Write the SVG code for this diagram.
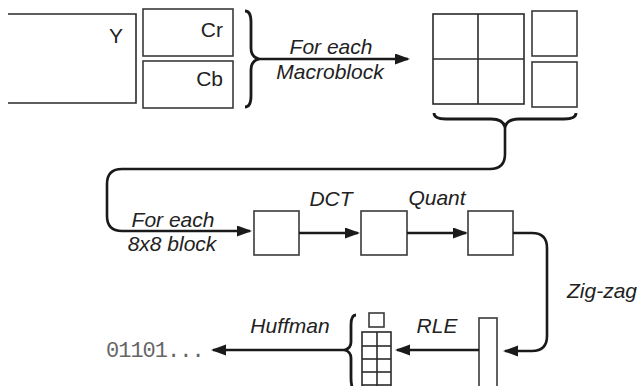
<svg xmlns="http://www.w3.org/2000/svg" width="638" height="386" viewBox="0 0 638 386">
<style>
.box{fill:#fff;stroke:#3a3a3a;stroke-width:1.6}
.grid{fill:none;stroke:#2a2a2a;stroke-width:1.6}
.conn{fill:none;stroke:#1a1a1a;stroke-width:2.6}
.brace{fill:none;stroke:#1a1a1a;stroke-width:2.8;stroke-linejoin:round}
.lbl{font-family:"Liberation Sans",Arial,sans-serif;font-size:21px;fill:#222}
.it{font-style:italic}
.mono{font-family:"Liberation Mono","Courier New",monospace;font-size:22px;letter-spacing:-1px;fill:#666}
</style>
<defs>
<marker id="ah" markerUnits="userSpaceOnUse" markerWidth="16" markerHeight="12" refX="13" refY="5.5" orient="auto">
<path d="M0,0 L15,5.5 L0,11 Z" fill="#1a1a1a"/>
</marker>
</defs>
<rect width="638" height="386" fill="#fff"/>

<g id="node-Y">
<path class="grid" d="M8,14 H136 V103 H8"/>
<text class="lbl" x="123" y="43" text-anchor="end">Y</text>
</g>
<g id="node-Cr">
<rect class="box" x="143" y="9" width="90" height="47"/>
<text class="lbl" x="223" y="37" text-anchor="end">Cr</text>
</g>
<g id="node-Cb">
<rect class="box" x="143" y="61" width="90" height="47"/>
<text class="lbl" x="223" y="86" text-anchor="end">Cb</text>
</g>
<g id="brace-color">
<path class="brace" d="M245,11 Q251,11 251,22 V48 Q251,57 259,59 Q251,61 251,70 V96 Q251,107 245,107"/>
</g>

<g id="node-macroblock">
<rect class="grid" x="433" y="14" width="91" height="90"/>
<line class="grid" x1="478" y1="14" x2="478" y2="104"/>
<line class="grid" x1="433" y1="59" x2="524" y2="59"/>
<rect class="box" x="532" y="11" width="45" height="45"/>
<rect class="box" x="532" y="62" width="45" height="45"/>
</g>
<g id="brace-macroblock">
<path class="brace" d="M434,113 Q434,119 446,119 H491 Q503,119 505,127 Q507,119 519,119 H564 Q576,119 576,113"/>
</g>

<g id="node-block1"><rect class="box" x="254" y="211" width="45" height="44"/></g>
<g id="node-block2"><rect class="box" x="361" y="211" width="46" height="44"/></g>
<g id="node-block3"><rect class="box" x="468" y="211" width="45" height="44"/></g>

<g id="node-zigzag-bar"><rect class="box" x="479" y="318" width="18" height="90"/></g>

<g id="node-rle-column">
<rect class="box" x="369" y="313" width="15" height="14"/>
<rect class="grid" x="362" y="332" width="29" height="70"/>
<line class="grid" x1="377" y1="332" x2="377" y2="402"/>
<line class="grid" x1="362" y1="346" x2="391" y2="346"/>
<line class="grid" x1="362" y1="359" x2="391" y2="359"/>
<line class="grid" x1="362" y1="372" x2="391" y2="372"/>
<line class="grid" x1="362" y1="385" x2="391" y2="385"/>
</g>
<g id="brace-column">
<path class="brace" d="M356,315 Q351,315 351,325 V342 Q351,348 345,350 Q351,352 351,358 V378 Q351,390 356,392"/>
</g>

<g id="node-output">
<text class="mono" x="106" y="357">01101...</text>
</g>

<g id="connectors">
<path class="conn" marker-end="url(#ah)" d="M259,59 H408"/>
<path class="conn" marker-end="url(#ah)" d="M505,127 V154 Q505,169 490,169 H122 Q107,169 107,184 V216 Q107,231 122,231 H250"/>
<path class="conn" marker-end="url(#ah)" d="M299,233 H358"/>
<path class="conn" marker-end="url(#ah)" d="M407,233 H466"/>
<path class="conn" marker-end="url(#ah)" d="M513,233 H532 Q547,233 547,248 V336 Q547,351 532,351 H505"/>
<path class="conn" marker-end="url(#ah)" d="M479,350 H397"/>
<path class="conn" marker-end="url(#ah)" d="M345,350 H213"/>
</g>

<g id="labels">
<text class="lbl it" x="331" y="54" text-anchor="middle">For each</text>
<text class="lbl it" x="330" y="79" text-anchor="middle">Macroblock</text>
<text class="lbl it" x="173" y="227" text-anchor="middle">For each</text>
<text class="lbl it" x="172" y="251" text-anchor="middle">8x8 block</text>
<text class="lbl it" x="331" y="206" text-anchor="middle">DCT</text>
<text class="lbl it" x="437" y="205" text-anchor="middle">Quant</text>
<text class="lbl it" x="567" y="298">Zig-zag</text>
<text class="lbl it" x="437" y="333" text-anchor="middle">RLE</text>
<text class="lbl it" x="290" y="333" text-anchor="middle">Huffman</text>
</g>
</svg>
